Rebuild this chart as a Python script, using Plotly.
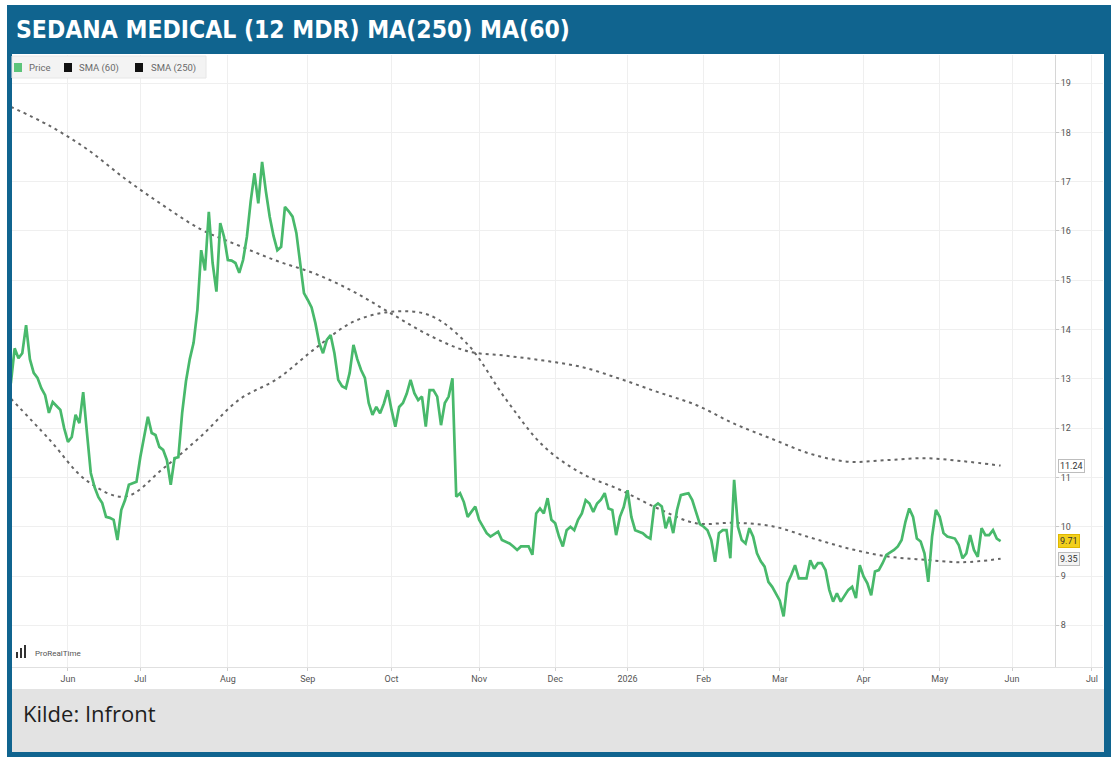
import pandas as pd
import plotly.graph_objects as go

# ---------------- data ----------------
# Nasdaq Stockholm holidays in the window (non-trading days)
holidays = ['2025-05-29', '2025-06-06', '2025-06-20', '2025-12-24', '2025-12-25',
            '2025-12-26', '2025-12-31', '2026-01-01', '2026-01-06', '2026-04-03',
            '2026-04-06', '2026-05-01', '2026-05-14', '2026-06-19']
trading_days = pd.bdate_range('2025-05-09', '2026-07-03', freq='C', holidays=holidays)

# daily closing price (SEK), one value per trading day from 2025-05-09
price = [
    12.91, 13.62, 13.42, 13.52, 14.09, 13.40, 13.12, 13.02, 12.81, 12.67, 12.31, 12.53, 12.45, 12.37, 12.00,
    11.72, 11.82, 12.27, 12.10, 12.73, 11.90, 11.09, 10.80, 10.60, 10.48, 10.20, 10.18, 10.14, 9.73, 10.34,
    10.54, 10.85, 10.88, 10.91, 11.41, 11.80, 12.23, 11.90, 11.86, 11.62, 11.56, 11.35, 10.85, 11.39, 11.41,
    12.31, 12.95, 13.40, 13.73, 14.40, 15.61, 15.20, 16.39, 15.35, 14.77, 16.16, 15.88, 15.41, 15.40, 15.35,
    15.15, 15.41, 15.88, 16.60, 17.17, 16.56, 17.40, 16.80, 16.29, 15.90, 15.61, 15.68, 16.49, 16.40, 16.29,
    15.96, 15.35, 14.74, 14.60, 14.45, 14.13, 13.73, 13.52, 13.79, 13.89, 13.52, 12.98, 12.85, 12.81, 13.12,
    13.69, 13.40, 13.18, 13.02, 12.51, 12.27, 12.43, 12.30, 12.50, 12.77, 12.37, 12.03, 12.43, 12.51, 12.70,
    12.98, 12.71, 12.57, 12.64, 12.03, 12.77, 12.77, 12.64, 12.06, 12.51, 12.64, 13.01, 10.61, 10.68, 10.50,
    10.20, 10.30, 10.41, 10.14, 10.00, 9.87, 9.80, 9.85, 9.90, 9.73, 9.70, 9.66, 9.60, 9.53, 9.60,
    9.60, 9.60, 9.43, 10.27, 10.37, 10.27, 10.58, 10.14, 10.07, 9.80, 9.60, 9.93, 10.00, 9.93, 10.14,
    10.27, 10.54, 10.47, 10.30, 10.47, 10.55, 10.68, 10.37, 10.34, 9.83, 10.20, 10.40, 10.74, 10.20, 9.93,
    9.90, 9.87, 9.80, 9.76, 10.41, 10.47, 10.41, 9.97, 10.20, 9.87, 10.34, 10.64, 10.66, 10.68, 10.54,
    10.30, 10.05, 10.00, 9.93, 9.73, 9.29, 9.87, 9.93, 9.93, 9.36, 10.95, 10.00, 9.73, 9.66, 9.97,
    9.80, 9.46, 9.30, 9.19, 8.88, 8.78, 8.65, 8.50, 8.18, 8.85, 9.02, 9.22, 8.95, 8.95, 8.95,
    9.32, 9.15, 9.26, 9.26, 9.12, 8.72, 8.48, 8.65, 8.48, 8.60, 8.72, 8.78, 8.55, 9.22, 8.99,
    8.85, 8.61, 9.09, 9.12, 9.26, 9.43, 9.48, 9.53, 9.60, 9.73, 10.10, 10.37, 10.20, 9.76, 9.70,
    9.46, 8.88, 9.80, 10.34, 10.20, 9.87, 9.80, 9.78, 9.76, 9.63, 9.36, 9.46, 9.83, 9.53, 9.39,
    9.97, 9.83, 9.83, 9.93, 9.76, 9.71,
]

# moving averages, read every 10th trading day from 2025-05-09
sma60 = [12.60, 11.78, 10.93, 10.61, 11.18, 11.84, 12.58, 13.00, 13.62, 14.16, 14.36, 14.29, 13.70, 12.59,
         11.63, 11.08, 10.75, 10.37, 10.07, 10.08, 10.01, 9.78, 9.56, 9.40, 9.33, 9.28, 9.35]
sma250 = [18.52, 18.14, 17.66, 17.06, 16.52, 16.03, 15.70, 15.39, 15.13, 14.77, 14.32, 13.88, 13.56, 13.47,
          13.37, 13.24, 13.00, 12.73, 12.47, 12.09, 11.78, 11.48, 11.32, 11.35, 11.39, 11.33, 11.24]

month_labels = ['Jun', 'Jul', 'Aug', 'Sep', 'Oct', 'Nov', 'Dec', '2026', 'Feb', 'Mar', 'Apr', 'May', 'Jun', 'Jul']
y_ticks = [8, 9, 10, 11, 12, 13, 14, 15, 16, 17, 18, 19]
legend_names = ['Price', 'SMA (60)', 'SMA (250)']

title_text = 'SEDANA MEDICAL (12 MDR) MA(250) MA(60)'
source_text = 'Kilde: Infront'

# ---------------- derived x values ----------------
price_dates = trading_days[:len(price)]
sma_dates = trading_days[:len(price)][::10]
s = pd.Series(trading_days, index=trading_days)
month_starts = s.groupby([trading_days.year, trading_days.month]).first()
month_starts = [d for d in month_starts if d >= pd.Timestamp('2025-06-01')]

# ---------------- layout geometry ----------------
W, H = 1115, 762
L, R, T, B = 12, 12, 55, 95
PW, PH = W - L - R, H - T - B


def px(x):
    return (x - L) / PW


def py(y):
    return (H - B - y) / PH


BLUE = '#10648f'
GREEN = '#48b96b'
SMA_COL = '#666666'
TXT = '#555555'
SMALL_FONT = 'Roboto, Liberation Sans, sans-serif'

fig = go.Figure()

sma_line = dict(color=SMA_COL, width=2, dash='3px,4px', shape='spline')
fig.add_trace(go.Scatter(x=sma_dates, y=sma250, mode='lines', line=sma_line, name='SMA (250)',
                         showlegend=False, hoverinfo='skip'))
fig.add_trace(go.Scatter(x=sma_dates, y=sma60, mode='lines', line=sma_line, name='SMA (60)',
                         showlegend=False, hoverinfo='skip'))
fig.add_trace(go.Scatter(x=price_dates, y=price, mode='lines', line=dict(color=GREEN, width=2.7),
                         name='Price', showlegend=False))

shapes = [
    dict(type='rect', xref='paper', yref='paper', x0=px(7), x1=px(1111), y0=py(757), y1=py(5),
         fillcolor=BLUE, line=dict(width=0), layer='below'),
    dict(type='rect', xref='paper', yref='paper', x0=px(12), x1=px(1104), y0=py(689), y1=py(54),
         fillcolor='white', line=dict(width=0), layer='below'),
    dict(type='rect', xref='paper', yref='paper', x0=px(12), x1=px(1104), y0=py(752), y1=py(689),
         fillcolor='#e3e3e3', line=dict(width=0), layer='below'),
    # legend box
    dict(type='rect', xref='paper', yref='paper', x0=px(12), x1=px(206), y0=py(78), y1=py(56),
         fillcolor='#f3f3f3', line=dict(color='#e6e6e6', width=1)),
]
# legend swatches
legend_swatch_x = [14, 64, 135]
legend_text_x = [27, 77, 149]
legend_cols = ['#5cc47a', '#111111', '#111111']
for sx, col in zip(legend_swatch_x, legend_cols):
    shapes.append(dict(type='rect', xref='paper', yref='paper', x0=px(sx), x1=px(sx + 8), y0=py(72), y1=py(63),
                       fillcolor=col, line=dict(width=0)))
# small ProRealTime bar logo
for x0, top in [(16, 652), (20, 648), (24, 645)]:
    shapes.append(dict(type='rect', xref='paper', yref='paper', x0=px(x0), x1=px(x0 + 2), y0=py(658), y1=py(top),
                       fillcolor='#333333', line=dict(width=0)))

annotations = [
    dict(text=title_text, xref='paper', yref='paper', x=px(14), y=py(30), xanchor='left', yanchor='middle',
         showarrow=False, font=dict(family='DejaVu Sans Condensed, Liberation Sans Narrow, sans-serif',
                                    size=24.5, color='white', weight='bold')),
    dict(text=source_text, xref='paper', yref='paper', x=px(21), y=py(713), xanchor='left', yanchor='middle',
         showarrow=False, font=dict(family='Open Sans, Noto Sans, sans-serif', size=22, color='#1e1e1e')),
    dict(text='ProRealTime', xref='paper', yref='paper', x=px(33), y=py(653), xanchor='left', yanchor='middle',
         showarrow=False, font=dict(family=SMALL_FONT, size=8, color='#555555')),
]
for name, tx in zip(legend_names, legend_text_x):
    annotations.append(dict(text=name, xref='paper', yref='paper', x=px(tx), y=py(67.5), xanchor='left',
                            yanchor='middle', showarrow=False,
                            font=dict(family=SMALL_FONT, size=9.5, color='#6a6a6a')))

axis_pos = px(1055)
for val, bg, border in [(sma250[-1], 'white', '#bdbdbd'), (price[-1], '#f2cf1d', '#e0b800'), (sma60[-1], '#f4f4f4', '#bdbdbd')]:
    annotations.append(dict(text=f'{val:.2f}', xref='paper', yref='y', x=axis_pos, y=val, xanchor='left',
                            yanchor='middle', xshift=3, showarrow=False, bgcolor=bg, bordercolor=border,
                            borderwidth=1, borderpad=1,
                            font=dict(family=SMALL_FONT, size=9, color='#333333')))

fig.update_layout(
    width=W, height=H,
    margin=dict(l=L, r=R, t=T, b=B),
    paper_bgcolor='white',
    plot_bgcolor='rgba(0,0,0,0)',
    shapes=shapes,
    annotations=annotations,
    showlegend=False,
    xaxis=dict(
        range=['2025-05-09 07:12', '2026-07-03 21:36'],
        rangebreaks=[dict(bounds=['sat', 'mon']), dict(values=holidays)],
        tickvals=month_starts, ticktext=month_labels,
        showgrid=True, gridcolor='#efefef', gridwidth=1,
        showline=True, linecolor='#e0e0e0', linewidth=1,
        ticks='outside', ticklen=3, tickcolor='#d0d0d0',
        tickfont=dict(family=SMALL_FONT, size=9, color=TXT),
        zeroline=False, fixedrange=True,
    ),
    yaxis=dict(
        range=[7.154, 19.57],
        side='right', anchor='free', position=axis_pos,
        tickvals=y_ticks,
        showgrid=True, gridcolor='#efefef', gridwidth=1,
        showline=True, linecolor='#d6d6d6', linewidth=1,
        ticks='outside', ticklen=3, tickcolor='#c8c8c8',
        tickfont=dict(family=SMALL_FONT, size=9, color=TXT),
        zeroline=False, fixedrange=True,
    ),
)

fig.write_html('out.html')
